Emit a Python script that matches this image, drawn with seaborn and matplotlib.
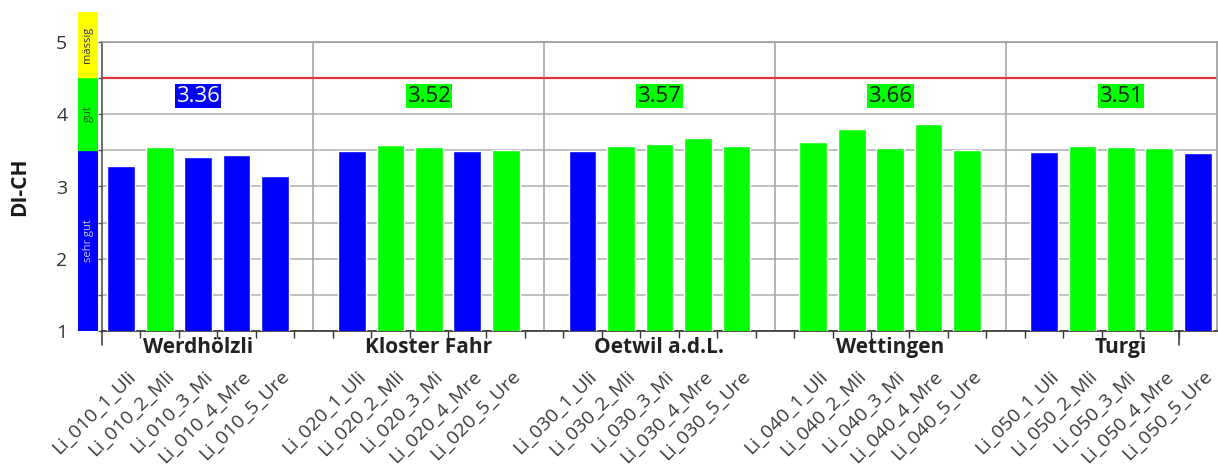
import numpy as np
import pandas as pd
import seaborn as sns
import matplotlib.pyplot as plt
from matplotlib import transforms

# ----------------------
# Data
# ----------------------
sites = ["Werdhölzli", "Kloster Fahr", "Oetwil a.d.L.", "Wettingen", "Turgi"]
site_codes = ["010", "020", "030", "040", "050"]
transects = ["1_Uli", "2_Mli", "3_Mi", "4_Mre", "5_Ure"]

di_werdhoelzli = [3.28, 3.54, 3.41, 3.43, 3.14]
di_kloster_fahr = [3.49, 3.58, 3.54, 3.49, 3.50]
di_oetwil = [3.49, 3.56, 3.59, 3.67, 3.56]
di_wettingen = [3.62, 3.79, 3.53, 3.86, 3.50]
di_turgi = [3.48, 3.56, 3.54, 3.53, 3.46]
site_means = [3.36, 3.52, 3.57, 3.66, 3.51]

limit = 4.5
class_bounds = [1, 3.5, 4.5, 5.4]
class_names = ["sehr gut", "gut", "mässig"]
class_colors = ["#0000ff", "#00ff00", "#ffff00"]
class_text = ["#c8c8ff", "#1a5a1a", "#333333"]

# ----------------------
# Prepare
# ----------------------
all_values = [di_werdhoelzli, di_kloster_fahr, di_oetwil, di_wettingen, di_turgi]
slots_per_site = len(transects) + 1

rows = []
for g, (code, vals) in enumerate(zip(site_codes, all_values)):
    for b, (tr, v) in enumerate(zip(transects, vals)):
        rows.append({"slot": g * slots_per_site + b,
                     "label": f"Li_{code}_{tr}",
                     "DI": v,
                     "klasse": class_names[int(np.digitize(v, class_bounds[1:3]))]})
df = pd.DataFrame(rows)


def class_color(v):
    return class_colors[int(np.digitize(v, class_bounds[1:3]))]


# ----------------------
# Plot
# ----------------------
sns.set_theme(style="white")
plt.rcParams["font.family"] = ["Open Sans", "DejaVu Sans"]

W, H = 1218, 473
fig = plt.figure(figsize=(W / 100, H / 100), dpi=100)
ax = fig.add_axes([102 / W, 1 - 331 / H, (1217 - 102) / W, (331 - 42) / H])
band = fig.add_axes([78 / W, 1 - 331 / H, 20 / W, (331 - 12) / H])

sns.barplot(data=df, x="slot", y="DI", hue="klasse",
            palette=dict(zip(class_names, class_colors)),
            native_scale=True, dodge=False, width=0.72, saturation=1,
            errorbar=None, legend=False, ax=ax, zorder=3)

n_slots = df["slot"].max() + 1
ax.set_xlim(-0.5, n_slots - 0.5)
ax.set_ylim(class_bounds[0], 5)
ax.set_xlabel("")
ax.set_ylabel("")

# y axis
ax.set_yticks(np.arange(1, 6, 1))
ax.set_yticks(np.arange(1.5, 5, 1), minor=True)
ax.yaxis.grid(True, which="both", color="#b4b4b4", lw=1.2, zorder=0)
ax.tick_params(axis="y", which="both", left=True, length=3, width=1,
               color="#555555", pad=22, labelsize=14, labelcolor="#333333")

# x axis
ax.set_xticks(df["slot"])
ax.set_xticklabels(df["label"], rotation=45, ha="right", va="top",
                   rotation_mode="anchor", fontsize=14, color="#3a3a3a")
ax.set_xticks(np.arange(0.5, n_slots - 1, 1), minor=True)
ax.tick_params(axis="x", which="major", bottom=True, length=0, pad=26)
ax.tick_params(axis="x", which="minor", bottom=True, length=5, width=1, color="#333333")
shift = transforms.ScaledTranslation(5 / 100, 0, fig.dpi_scale_trans)
for lab in ax.get_xticklabels():
    lab.set_transform(lab.get_transform() + shift)

# long category ticks
trans = transforms.blended_transform_factory(ax.transData, ax.transAxes)
for xpos in [-0.5, n_slots - 1.5]:
    ax.plot([xpos, xpos], [0, -0.05], color="#444444", lw=1.2,
            transform=trans, clip_on=False)

# site separators
for g in range(1, len(sites)):
    ax.axvline(g * slots_per_site - 1, color="#a8a8a8", lw=1.2, zorder=1)

# limit line
ax.axhline(limit, color="#e03535", lw=1.6, zorder=2)

# site names and mean boxes
for g, (site, m) in enumerate(zip(sites, site_means)):
    cx = g * slots_per_site + (len(transects) - 1) / 2
    ax.text(cx, -0.058, site, transform=trans, ha="center", va="center",
            fontsize=15, fontweight="bold", color="#222222")
    col = class_color(m)
    ax.text(cx, 4.25, f"{m:.2f}", ha="center", va="center", fontsize=16,
            color="white" if col == class_colors[0] else "#1a1a1a",
            bbox=dict(facecolor=col, edgecolor="none", pad=1), zorder=4)

for side in ["top", "right"]:
    ax.spines[side].set_visible(True)
    ax.spines[side].set_color("#9a9a9a")
    ax.spines[side].set_linewidth(1.2)
ax.spines["left"].set_color("#555555")
ax.spines["left"].set_linewidth(1.2)
ax.spines["bottom"].set_color("#333333")
ax.spines["bottom"].set_linewidth(1.2)

# class band on the left
for lo, hi, name, c, tc in zip(class_bounds[:-1], class_bounds[1:],
                               class_names, class_colors, class_text):
    band.axhspan(lo, hi, color=c)
    band.text(0.5, (lo + hi) / 2, name, rotation=90, ha="center", va="center",
              fontsize=8, color=tc)
band.set_xlim(0, 1)
band.set_ylim(class_bounds[0], class_bounds[-1])
band.axis("off")

fig.text(20 / W, 1 - 187 / H, "DI-CH", rotation=90, ha="center", va="center",
         fontsize=15, fontweight="bold", color="#1a1a1a")

fig.savefig("out.png", dpi=100)
